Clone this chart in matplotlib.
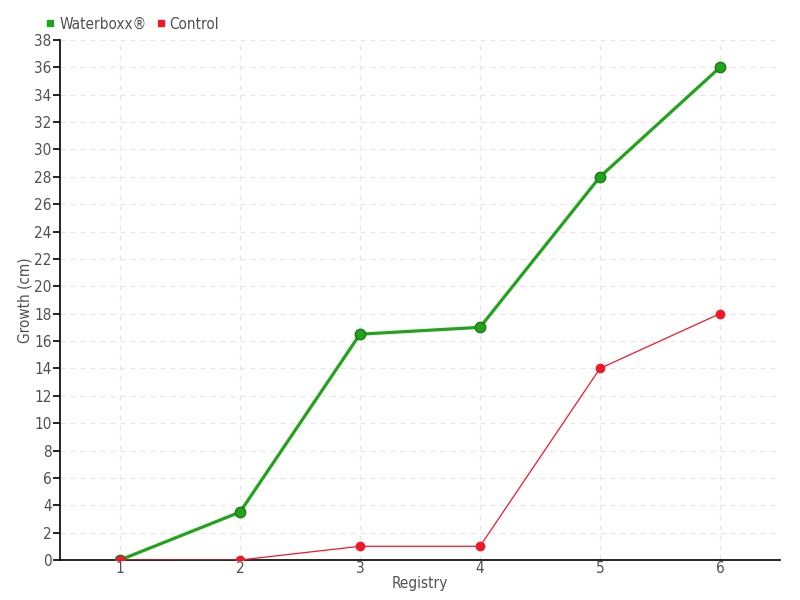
import matplotlib
matplotlib.use('Agg')
import matplotlib.pyplot as plt
from matplotlib.lines import Line2D

registry = [1, 2, 3, 4, 5, 6]
waterboxx = [0, 3.5, 16.5, 17, 28, 36]
control = [0, 0, 1, 1, 14, 18]
y_ticks = list(range(0, 39, 2))

green = '#22a31c'
red = '#f0192a'
text_color = '#505050'


def main():
    plt.rcParams['font.family'] = ['DejaVu Sans']
    plt.rcParams['font.stretch'] = 'condensed'
    plt.rcParams['font.size'] = 11

    fig = plt.figure(figsize=(8, 6), dpi=100)
    ax = fig.add_axes([0.075, 0.0667, 0.9, 0.8667])

    ax.plot(registry, waterboxx, color=green, lw=2.3, marker='o', ms=7.5,
            mfc=green, mec='#1a7a15', mew=1.0, zorder=3)
    ax.plot(registry, control, color=red, lw=0.9, marker='o', ms=6,
            mfc=red, mec=red, zorder=4)

    ax.set_xlim(0.5, 6.5)
    ax.set_ylim(0, 38)
    ax.set_xticks(registry)
    ax.set_yticks(y_ticks)
    ax.grid(True, linestyle=(0, (4, 4)), color='#e6e6e6', lw=0.9)
    ax.set_axisbelow(True)

    for s in ['top', 'right']:
        ax.spines[s].set_visible(False)
    ax.spines['left'].set_linewidth(1.2)
    ax.spines['bottom'].set_linewidth(1.2)
    ax.tick_params(axis='y', direction='out', length=5, width=1.2,
                   colors='black', labelcolor=text_color, pad=1)
    ax.tick_params(axis='x', direction='out', length=0, labelcolor=text_color, pad=1)

    ax.set_xlabel('Registry', color=text_color, labelpad=0)
    ax.set_ylabel('Growth (cm)', color=text_color, labelpad=1)

    handles = [
        Line2D([], [], ls='none', marker='s', ms=5, color=green),
        Line2D([], [], ls='none', marker='s', ms=5, color=red),
    ]
    fig.legend(handles, ['Waterboxx®', 'Control'], loc='upper left',
               bbox_to_anchor=(0.04, 0.995), ncol=2, frameon=False,
               handlelength=0.6, handletextpad=0.3, columnspacing=0.6,
               labelcolor=text_color, fontsize=11)

    fig.savefig('out.png', dpi=100)


if __name__ == '__main__':
    main()
